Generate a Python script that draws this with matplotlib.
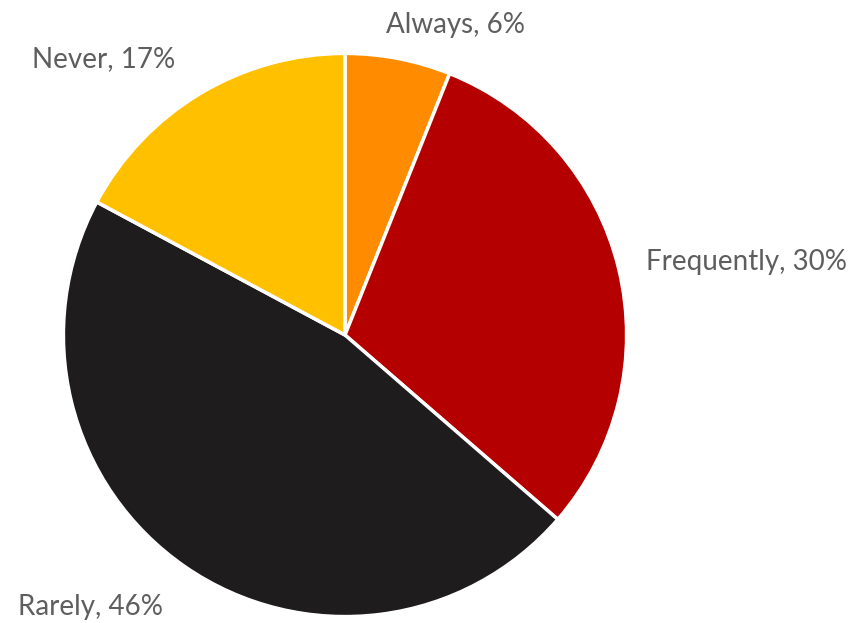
import matplotlib
matplotlib.use("Agg")
import matplotlib.pyplot as plt

categories = ["Always", "Frequently", "Rarely", "Never"]
shares = [6, 30, 46, 17]
colors = ["#FF8C00", "#B50000", "#1E1C1D", "#FFC000"]

# label anchors in figure fraction: (x, baseline y, horizontal alignment)
label_pos = [(0.533, 0.947, "center"),
             (0.756, 0.567, "left"),
             (0.021, 0.013, "left"),
             (0.037, 0.892, "left")]

fig = plt.figure(figsize=(8.54, 6.23), dpi=100)
ax = fig.add_axes([62 / 854, 5 / 623, 566 / 854, 566 / 623])
ax.pie(shares, colors=colors, startangle=90, counterclock=False,
       wedgeprops=dict(edgecolor="white", linewidth=2.5))
ax.set_xlim(-1.005, 1.005)
ax.set_ylim(-1.005, 1.005)
ax.set_aspect("equal")
ax.axis("off")

for name, val, (x, y, ha) in zip(categories, shares, label_pos):
    fig.text(x, y, f"{name}, {val}%", ha=ha, va="baseline",
             fontsize=20, color="#5E5E5E", family="Lato")

fig.savefig("out.png", dpi=100)
